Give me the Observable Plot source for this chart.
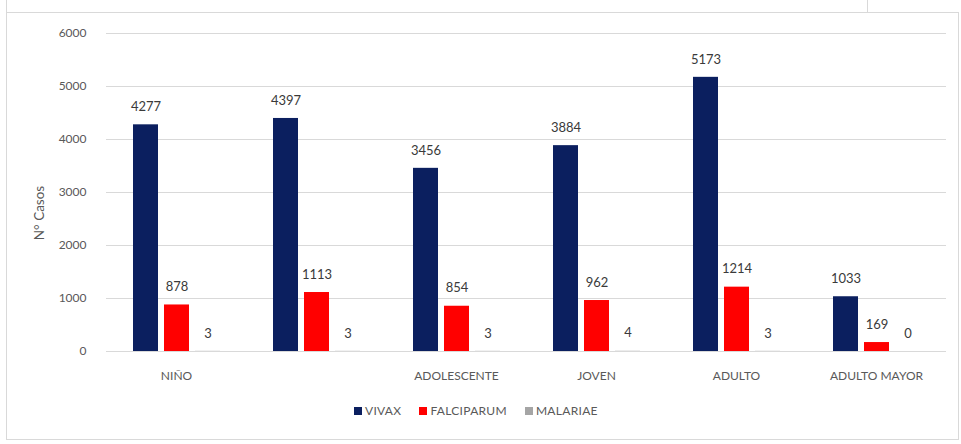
<!DOCTYPE html>
<html>
<head>
<meta charset="utf-8">
<script src="https://cdn.jsdelivr.net/npm/d3@7"></script>
<script src="https://cdn.jsdelivr.net/npm/@observablehq/plot@0.6"></script>
<style>
  body { margin: 0; background: #fff; font-family: Lato, "Open Sans", sans-serif; }
  #wrap { position: relative; width: 961px; height: 444px; overflow: hidden; background: #fff; }
  #chart { position: absolute; left: 0; top: 0; }
  .ln { position: absolute; background: #d9d9d9; }
  #legend { position: absolute; left: 354px; top: 403px; display: flex; align-items: center; font-size: 12px; color: #595959; letter-spacing: 0.3px; }
  #legend .it { display: flex; align-items: center; margin-right: 18px; }
  #legend .sw { width: 8px; height: 8px; margin-right: 3px; }
</style>
</head>
<body>
<div id="wrap">
  <div class="ln" style="left:6px;top:12px;width:953px;height:1px;"></div>
  <div class="ln" style="left:867px;top:0px;width:1px;height:12px;"></div>
  <div class="ln" style="left:6px;top:0px;width:1px;height:440px;"></div>
  <div class="ln" style="left:6px;top:439px;width:953px;height:1px;"></div>
  <div class="ln" style="left:958px;top:12px;width:1px;height:428px;"></div>
  <div id="chart"></div>
  <div id="legend"></div>
</div>
<script>
const categories = ["NIÑO", "", "ADOLESCENTE", "JOVEN", "ADULTO", "ADULTO MAYOR"];
const series = ["VIVAX", "FALCIPARUM", "MALARIAE"];
const vivax = [4277, 4397, 3456, 3884, 5173, 1033];
const falciparum = [878, 1113, 854, 962, 1214, 169];
const malariae = [3, 3, 3, 4, 3, 0];
const yTicks = [0, 1000, 2000, 3000, 4000, 5000, 6000];
const colors = ["#0b1f5f", "#ff0000", "#a5a5a5"];
const yTitle = "N° Casos";

const seriesValues = [vivax, falciparum, malariae];
const rows = [];
categories.forEach((c, i) => {
  series.forEach((s, j) => rows.push({i, s, v: seriesValues[j][i]}));
});

const chart = Plot.plot({
  width: 961,
  height: 392,
  marginLeft: 104,
  marginRight: 14,
  marginTop: 33,
  marginBottom: 41,
  style: {fontFamily: "Lato, 'Open Sans', sans-serif", fontSize: "12px", color: "#595959", background: "transparent"},
  fx: {domain: d3.range(categories.length), padding: 0, axis: "bottom", tickFormat: i => categories[i], label: null, tickSize: 0, tickPadding: 20},
  x: {domain: series, axis: null, paddingInner: 0.2, paddingOuter: 0.85, align: 0.5},
  y: {domain: [0, 6000], axis: null},
  color: {domain: series, range: colors},
  marks: [
    Plot.gridY(yTicks, {stroke: "#d9d9d9", strokeOpacity: 1}),
    Plot.axisY(yTicks, {tickSize: 0, tickPadding: 20, label: null, tickFormat: d => String(d)}),
    Plot.barY(rows, {fx: "i", x: "s", y: "v", fill: "s"}),
    Plot.text(rows, {fx: "i", x: "s", y: "v", text: d => String(d.v), dy: -18, fill: "#3a3a3a", fontSize: 13})
  ]
});
document.getElementById("chart").appendChild(chart);

d3.select(chart).append("text")
  .attr("transform", "translate(41,213) rotate(-90)")
  .attr("text-anchor", "middle")
  .attr("dominant-baseline", "middle")
  .attr("fill", "#595959")
  .attr("font-size", 13.5)
  .text(yTitle);

const legend = document.getElementById("legend");
series.forEach((s, j) => {
  const it = document.createElement("div");
  it.className = "it";
  const sw = document.createElement("div");
  sw.className = "sw";
  sw.style.background = colors[j];
  const t = document.createElement("span");
  t.textContent = s;
  it.appendChild(sw);
  it.appendChild(t);
  legend.appendChild(it);
});
</script>
</body>
</html>
